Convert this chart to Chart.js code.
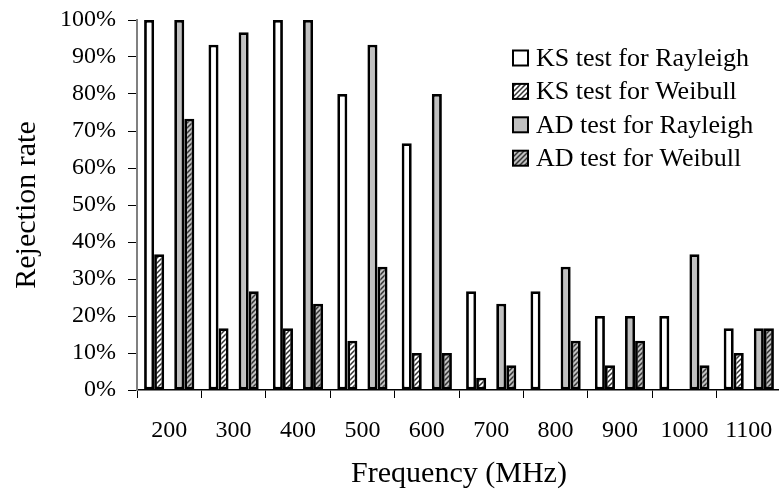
<!DOCTYPE html>
<html>
<head>
<meta charset="utf-8">
<script src="https://cdn.jsdelivr.net/npm/chart.js@4"></script>
<style>
  html, body { margin: 0; padding: 0; background: #fff; overflow: hidden; }
  #wrap { position: relative; width: 783px; height: 494px; }
</style>
</head>
<body>
<div id="wrap"><canvas id="c"></canvas></div>
<script>
const categories = ['200', '300', '400', '500', '600', '700', '800', '900', '1000', '1100'];
const ksRayleigh = [100, 93.3, 100, 80, 66.7, 26.7, 26.7, 20, 20, 16.7];
const ksWeibull  = [36.7, 16.7, 16.7, 13.3, 10, 3.3, 0, 6.7, 0, 10];
const adRayleigh = [100, 96.7, 100, 93.3, 80, 23.3, 33.3, 20, 36.7, 16.7];
const adWeibull  = [73.3, 26.7, 23.3, 33.3, 10, 6.7, 13.3, 13.3, 6.7, 16.7];
const seriesNames = ['KS test for Rayleigh', 'KS test for Weibull', 'AD test for Rayleigh', 'AD test for Weibull'];
const yTicks = [0, 10, 20, 30, 40, 50, 60, 70, 80, 90, 100];

const FONT = '"Liberation Serif", "Times New Roman", serif';

function hatch(bg, fg) {
  const s = 5;
  const c = document.createElement('canvas');
  c.width = s; c.height = s;
  const x = c.getContext('2d');
  x.fillStyle = bg; x.fillRect(0, 0, s, s);
  x.strokeStyle = fg; x.lineWidth = 1.5;
  x.beginPath();
  x.moveTo(-1, s + 1); x.lineTo(s + 1, -1);
  x.moveTo(-1, 1); x.lineTo(1, -1);
  x.moveTo(s - 1, s + 1); x.lineTo(s + 1, s - 1);
  x.stroke();
  return x.createPattern(c, 'repeat');
}

const fills = ['#ffffff', hatch('#ffffff', '#333333'), '#c0c0c0', hatch('#c0c0c0', '#333333')];

const bw = (ctx) => (ctx.raw ? 2.8 : 0);

const datasets = [
  { label: seriesNames[0], data: ksRayleigh, backgroundColor: fills[0] },
  { label: seriesNames[1], data: ksWeibull, backgroundColor: fills[1] },
  { label: '', data: categories.map(() => null), backgroundColor: 'rgba(0,0,0,0)' },
  { label: seriesNames[2], data: adRayleigh, backgroundColor: fills[2] },
  { label: seriesNames[3], data: adWeibull, backgroundColor: fills[3] }
].map(d => Object.assign(d, { borderColor: '#000', borderWidth: bw, borderSkipped: false }));

const legendPlugin = {
  id: 'customLegend',
  afterDraw(chart) {
    const ctx = chart.ctx;
    ctx.save();
    ctx.font = '26px ' + FONT;
    ctx.textBaseline = 'middle';
    ctx.textAlign = 'left';
    const x0 = 513, y0 = 58, dy = 33.4, box = 15;
    seriesNames.forEach((n, i) => {
      const y = y0 + i * dy;
      ctx.fillStyle = fills[i];
      ctx.fillRect(x0, y - box / 2, box, box);
      ctx.lineWidth = 2;
      ctx.strokeStyle = '#000';
      ctx.strokeRect(x0, y - box / 2, box, box);
      ctx.fillStyle = '#000';
      ctx.fillText(n, x0 + 23, y + 1);
    });
    ctx.restore();
  }
};

new Chart(document.getElementById('c'), {
  type: 'bar',
  data: { labels: categories, datasets },
  plugins: [legendPlugin],
  options: {
    responsive: true,
    maintainAspectRatio: false,
    animation: false,
    layout: { autoPadding: false, padding: { left: 9, right: 2, top: 20, bottom: 2 } },
    datasets: { bar: { categoryPercentage: 0.78, barPercentage: 1.0 } },
    plugins: { legend: { display: false }, tooltip: { enabled: false } },
    scales: {
      x: {
        grid: { display: true, drawOnChartArea: false, drawTicks: true, tickLength: 8, color: '#000', offset: true },
        border: { display: true, color: '#000', width: 1.5 },
        ticks: { color: '#000', font: { family: FONT, size: 24 }, padding: 18, maxRotation: 0, autoSkip: false },
        title: { display: true, text: 'Frequency (MHz)', color: '#000', font: { family: FONT, size: 30 }, padding: 0 },
        afterFit: (s) => { s.height = 102; s.paddingLeft = 0; s.paddingRight = 0; }
      },
      y: {
        min: 0, max: 100,
        afterBuildTicks: (s) => { s.ticks = yTicks.map(v => ({ value: v })); },
        grid: { display: true, drawOnChartArea: false, drawTicks: true, tickLength: 9, color: '#000' },
        border: { display: true, color: '#808080', width: 2 },
        ticks: { color: '#000', font: { family: FONT, size: 24 }, padding: 12, callback: (v) => v + '%' },
        title: { display: true, text: 'Rejection rate', color: '#000', font: { family: FONT, size: 30 }, padding: 0 },
        afterFit: (s) => { s.width = 128; s.paddingTop = 0; s.paddingBottom = 0; }
      }
    }
  }
});
</script>
</body>
</html>
